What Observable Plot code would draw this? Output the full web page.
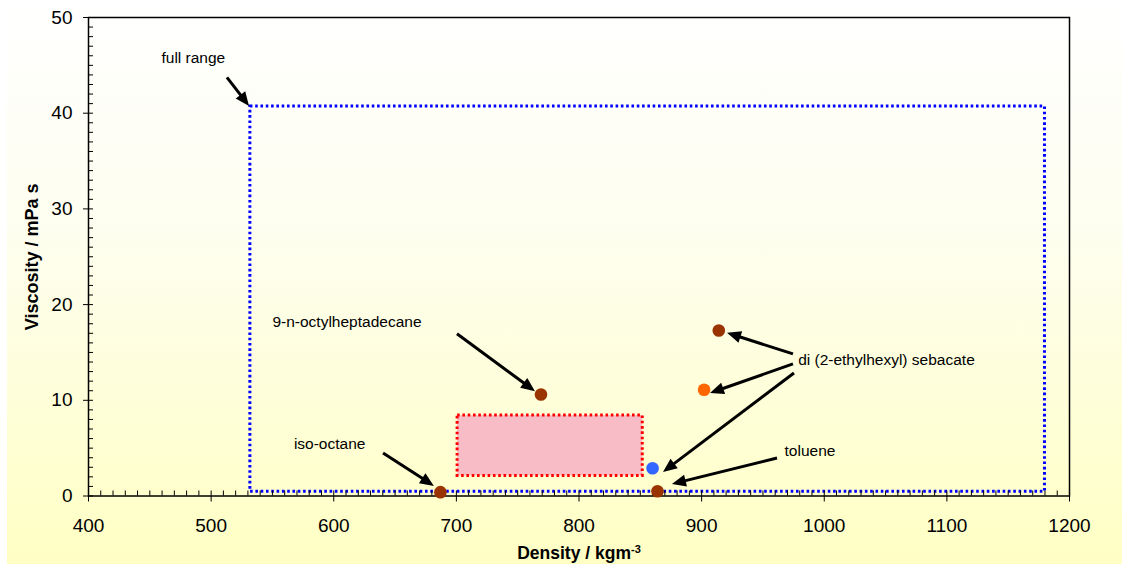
<!DOCTYPE html>
<html><head><meta charset="utf-8">
<script src="https://cdn.jsdelivr.net/npm/d3@7"></script>
<script src="https://cdn.jsdelivr.net/npm/@observablehq/plot@0.6"></script>
<style>body{margin:0;background:#fff}</style>
</head><body><div id="chart"></div>
<script>
// ---- data ----
const xTicks = [400, 500, 600, 700, 800, 900, 1000, 1100, 1200];
const yTicks = [0, 10, 20, 30, 40, 50];
const xMinor = d3.range(400, 1201, 10);
const yMinor = d3.range(0, 51, 1);

// measured compounds
const pointDensity   = [687, 769, 860, 864, 902, 914];
const pointViscosity = [0.4, 10.6, 2.9, 0.5, 11.1, 17.3];
const pointColor     = ["#993300", "#993300", "#3366ff", "#993300", "#ff6600", "#993300"];

// ranges (rectangles)
const rangeName   = ["full range", "typical"];
const rangeX1     = [532, 701];
const rangeX2     = [1180, 852];
const rangeY1     = [0.45, 2.1];
const rangeY2     = [40.7, 8.4];

// annotation labels
const labelText = ["full range", "9-n-octylheptadecane", "iso-octane", "di (2-ethylhexyl) sebacate", "toluene"];
const labelX    = [459.5, 550, 567.5, 978.7, 967.6];
const labelY    = [45.8, 18.2, 5.4, 14.2, 4.75];

// annotation arrows
const arrowX1 = [513.3, 700.9, 640.6, 974.9, 974.9, 975.7, 961.9];
const arrowY1 = [43.7, 16.9, 4.45, 14.8, 13.76, 12.8, 3.92];
const arrowX2 = [531.3, 764.5, 682.1, 921.1, 907.2, 868.9, 876.2];
const arrowY2 = [40.7, 10.9, 1.0, 17.0, 10.7, 2.46, 1.2];

const points = pointDensity.map((d, i) => ({x: d, y: pointViscosity[i], c: pointColor[i]}));
const rects = rangeName.map((n, i) => ({n, x1: rangeX1[i], x2: rangeX2[i], y1: rangeY1[i], y2: rangeY2[i]}));
const labels = labelText.map((t, i) => ({t, x: labelX[i], y: labelY[i]}));
const arrows = arrowX1.map((d, i) => ({x1: d, y1: arrowY1[i], x2: arrowX2[i], y2: arrowY2[i]}));

const W = 1122, H = 564, mL = 88, mR = 53, mT = 17, mB = 68.5;
const pw = W - mL - mR, ph = H - mT - mB;
const font = "'Liberation Sans', Arial, Helvetica, sans-serif";

// filled-triangle arrows drawn from the link's scaled channels
function arrowRender(index, scales, values) {
  const g = d3.create("svg:g");
  const L = 14, Wd = 6;
  for (const i of index) {
    const x1 = values.x1[i], y1 = values.y1[i], x2 = values.x2[i], y2 = values.y2[i];
    const a = Math.atan2(y2 - y1, x2 - x1);
    const bx = x2 - L * Math.cos(a), by = y2 - L * Math.sin(a);
    g.append("line").attr("x1", x1).attr("y1", y1).attr("x2", bx + Math.cos(a)).attr("y2", by + Math.sin(a))
      .attr("stroke", "#000").attr("stroke-width", 3);
    const px = -Math.sin(a), py = Math.cos(a);
    g.append("path")
      .attr("d", `M${x2},${y2}L${bx + Wd * px},${by + Wd * py}L${bx - Wd * px},${by - Wd * py}Z`)
      .attr("fill", "#000");
  }
  return g.node();
}

const chart = Plot.plot({
  width: W, height: H,
  marginLeft: mL, marginRight: mR, marginTop: mT, marginBottom: mB,
  style: {
    fontFamily: font,
    color: "#000",
    background: "linear-gradient(to right, #ffffff 7px, transparent 7px), linear-gradient(to bottom, #ffffff 0%, #fefef0 40%, #ffffc4 100%)"
  },
  x: {domain: [400, 1200]},
  y: {domain: [0, 50]},
  marks: [
    // full range (blue dotted)
    Plot.rect([rects[0]], {x1: "x1", x2: "x2", y1: "y1", y2: "y2", fill: "none",
      stroke: "#0000ff", strokeWidth: 3, strokeDasharray: "2.6,2.7"}),
    // typical range (red dotted, pink fill)
    Plot.rect([rects[1]], {x1: "x1", x2: "x2", y1: "y1", y2: "y2", fill: "#f8bcc6",
      stroke: "#ff0000", strokeWidth: 3, strokeDasharray: "2.6,2.7"}),
    // minor ticks inside
    Plot.tickX(xMinor, {x: d => d, insetTop: ph - 5, stroke: "#000", strokeWidth: 1}),
    Plot.tickY(yMinor, {y: d => d, insetRight: pw - 5, stroke: "#000", strokeWidth: 1}),
    Plot.axisX({ticks: xTicks, tickFormat: d => String(d), tickSize: 6, tickPadding: 16, fontSize: 19, label: null, stroke: "#000"}),
    Plot.axisY({ticks: yTicks, tickFormat: d => String(d), tickSize: 5, tickPadding: 11, fontSize: 19, label: null, stroke: "#000"}),
    Plot.frame({stroke: "#000", strokeWidth: 1.5}),
    // arrows
    Plot.link(arrows, {x1: "x1", y1: "y1", x2: "x2", y2: "y2", stroke: "#000", strokeWidth: 3,
      render: arrowRender}),
    // points
    Plot.dot(points, {x: "x", y: "y", fill: "c", r: 6.3}),
    // labels
    Plot.text(labels, {x: "x", y: "y", text: "t", textAnchor: "start", lineAnchor: "middle", fontSize: 15.5, fill: "#000"}),
    // axis titles
    Plot.text(["Density / kgm-3"], {frameAnchor: "bottom", dy: 57, textAnchor: "middle", lineAnchor: "middle",
      fontSize: 17.5, fontWeight: "bold", fill: "#000", className: "xtitle"}),
    Plot.text(["Viscosity / mPa s"], {frameAnchor: "left", dx: -56, rotate: -90, textAnchor: "middle",
      lineAnchor: "middle", fontSize: 18, fontWeight: "bold", fill: "#000"})
  ]
});

// tick label size
d3.select(chart).selectAll('g[aria-label$="tick label"]').attr("font-size", 19).selectAll("text").attr("font-size", 19);

// superscript for the density unit
d3.select(chart).selectAll(".xtitle text").each(function() {
  const t = d3.select(this);
  t.text(null);
  t.append("tspan").text("Density / kgm");
  t.append("tspan").attr("dy", "-0.5em").attr("font-size", "11px").text("-3");
});

document.getElementById("chart").appendChild(chart);
</script>
</body></html>
